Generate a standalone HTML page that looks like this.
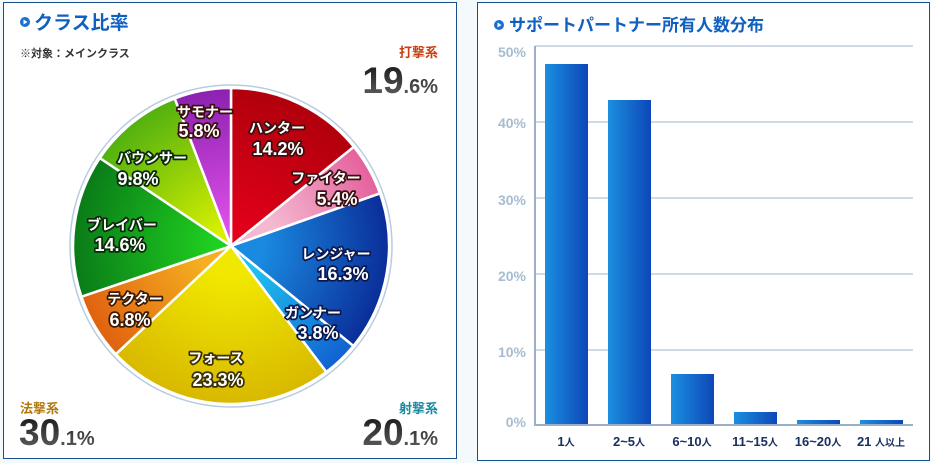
<!DOCTYPE html>
<html><head><meta charset="utf-8"><style>
body{margin:0;background:#f4f9fc;width:931px;height:463px;overflow:hidden;font-family:"Liberation Sans","Noto Sans CJK JP",sans-serif}
svg{position:absolute;left:0;top:0}
</style></head><body>
<svg width="931" height="463" viewBox="0 0 931 463">
<defs>
<linearGradient id="bar" x1="0" x2="1"><stop offset="0" stop-color="#1b8fe0"/><stop offset="1" stop-color="#0d47b8"/></linearGradient>
<linearGradient id="gr" x1="0" y1="0" x2="0" y2="1"><stop offset="0" stop-color="#111"/><stop offset="1" stop-color="#666"/></linearGradient>
<radialGradient id="hu" cx="231" cy="246" r="160" gradientUnits="userSpaceOnUse"><stop offset="0" stop-color="#e8001c"/><stop offset="1" stop-color="#b0000c"/></radialGradient>
<radialGradient id="fi" cx="231" cy="246" r="160" gradientUnits="userSpaceOnUse"><stop offset="0.3" stop-color="#f4b8d0"/><stop offset="1" stop-color="#e4609c"/></radialGradient>
<radialGradient id="ra" cx="231" cy="246" r="160" gradientUnits="userSpaceOnUse"><stop offset="0.2" stop-color="#1a8ae0"/><stop offset="1" stop-color="#0a2c98"/></radialGradient>
<radialGradient id="gu" cx="231" cy="246" r="160" gradientUnits="userSpaceOnUse"><stop offset="0.2" stop-color="#20c0f0"/><stop offset="1" stop-color="#1060d0"/></radialGradient>
<radialGradient id="fo" cx="231" cy="246" r="160" gradientUnits="userSpaceOnUse"><stop offset="0.2" stop-color="#f0e800"/><stop offset="1" stop-color="#d8b800"/></radialGradient>
<radialGradient id="te" cx="231" cy="246" r="160" gradientUnits="userSpaceOnUse"><stop offset="0.2" stop-color="#f4b020"/><stop offset="1" stop-color="#e06010"/></radialGradient>
<radialGradient id="br" cx="231" cy="246" r="160" gradientUnits="userSpaceOnUse"><stop offset="0.1" stop-color="#20d020"/><stop offset="1" stop-color="#0a7a18"/></radialGradient>
<radialGradient id="bo" cx="231" cy="246" r="160" gradientUnits="userSpaceOnUse"><stop offset="0.1" stop-color="#d8f000"/><stop offset="1" stop-color="#50b010"/></radialGradient>
<radialGradient id="su" cx="231" cy="246" r="160" gradientUnits="userSpaceOnUse"><stop offset="0.1" stop-color="#e050e8"/><stop offset="1" stop-color="#8a20b0"/></radialGradient>
</defs>
<rect x="3.5" y="2.5" width="453" height="456" fill="#fff" stroke="#1a4f8a"/>
<circle cx="25" cy="22" r="5" fill="#1a70d0"/><path d="M23.5 19.5 L27.5 22 L23.5 24.5Z" fill="#fff"/>
<text x="34" y="29" font-size="19" font-weight="bold" fill="#1060c0">クラス比率</text>
<text x="20" y="57" font-size="11" font-weight="bold" fill="#333">※対象：メインクラス</text>
<circle cx="231" cy="246" r="161" fill="#fff" stroke="#b8cce0" stroke-width="1.5"/>
<g stroke="#fff" stroke-width="2.5">
<path d="M231 246 L231 88 A158 158 0 0 1 353.9 146.8Z" fill="url(#hu)"/>
<path d="M231 246 L353.9 146.8 A158 158 0 0 1 380 193.4Z" fill="url(#fi)"/>
<path d="M231 246 L380 193.4 A158 158 0 0 1 353.4 346Z" fill="url(#ra)"/>
<path d="M231 246 L353.4 346 A158 158 0 0 1 326.3 372Z" fill="url(#gu)"/>
<path d="M231 246 L326.3 372 A158 158 0 0 1 115.8 354.2Z" fill="url(#fo)"/>
<path d="M231 246 L115.8 354.2 A158 158 0 0 1 81.4 296.7Z" fill="url(#te)"/>
<path d="M231 246 L81.4 296.7 A158 158 0 0 1 99.8 158Z" fill="url(#br)"/>
<path d="M231 246 L99.8 158 A158 158 0 0 1 174.7 98.4Z" fill="url(#bo)"/>
<path d="M231 246 L174.7 98.4 A158 158 0 0 1 231 88Z" fill="url(#su)"/>
</g>
<g font-weight="bold" fill="#fff" stroke="#3a1010" stroke-width="3.5" paint-order="stroke" stroke-linejoin="round" text-anchor="middle">
<text x="205" y="117" font-size="14">サモナー</text><text x="199" y="137" font-size="18">5.8%</text>
<text x="277" y="133" font-size="14">ハンター</text><text x="278" y="155" font-size="18">14.2%</text>
<text x="326" y="183" font-size="14">ファイター</text><text x="337" y="205" font-size="18">5.4%</text>
<text x="336" y="259" font-size="14" stroke="#0a1a50">レンジャー</text><text x="343" y="280" font-size="18" stroke="#0a1a50">16.3%</text>
<text x="313" y="318" font-size="14" stroke="#0a1a50">ガンナー</text><text x="318" y="339" font-size="18" stroke="#0a1a50">3.8%</text>
<text x="216" y="363" font-size="14" stroke="#3a3000">フォース</text><text x="218" y="386" font-size="18" stroke="#3a3000">23.3%</text>
<text x="135" y="304" font-size="14" stroke="#3a1a00">テクター</text><text x="130" y="326" font-size="18" stroke="#3a1a00">6.8%</text>
<text x="122" y="230" font-size="14" stroke="#0a2a0a">ブレイバー</text><text x="120" y="251" font-size="18" stroke="#0a2a0a">14.6%</text>
<text x="152" y="163" font-size="14" stroke="#0a2a0a">バウンサー</text><text x="138" y="185" font-size="18" stroke="#0a2a0a">9.8%</text>
</g>
<text x="438" y="57" font-size="13" font-weight="bold" fill="#c84010" text-anchor="end">打撃系</text>
<text x="438" y="93" font-weight="bold" fill="url(#gr)" text-anchor="end"><tspan font-size="37">19</tspan><tspan font-size="20">.6%</tspan></text>
<text x="20" y="413" font-size="13" font-weight="bold" fill="#b07a10">法撃系</text>
<text x="19" y="445" font-weight="bold" fill="url(#gr)"><tspan font-size="37">30</tspan><tspan font-size="20">.1%</tspan></text>
<text x="438" y="413" font-size="13" font-weight="bold" fill="#1a8aa0" text-anchor="end">射撃系</text>
<text x="438" y="445" font-weight="bold" fill="url(#gr)" text-anchor="end"><tspan font-size="37">20</tspan><tspan font-size="20">.1%</tspan></text>
<rect x="477.5" y="2.5" width="452" height="458" fill="#fff" stroke="#1a4f8a"/>
<circle cx="499" cy="25" r="5" fill="#1a70d0"/><path d="M497.5 22.5 L501.5 25 L497.5 27.5Z" fill="#fff"/>
<text x="509" y="31" font-size="17" font-weight="bold" fill="#1060c0">サポートパートナー所有人数分布</text>
<g stroke="#b0c4d8" stroke-width="1.2">
<line x1="535" y1="46" x2="913" y2="46"/><line x1="535" y1="122" x2="913" y2="122"/>
<line x1="535" y1="198" x2="913" y2="198"/><line x1="535" y1="274" x2="913" y2="274"/>
<line x1="535" y1="350" x2="913" y2="350"/>
</g>
<line x1="535" y1="46" x2="535" y2="425" stroke="#9ab0c8" stroke-width="2"/>
<line x1="534" y1="425" x2="913" y2="425" stroke="#9ab0c8" stroke-width="2"/>
<g font-size="14" font-weight="bold" fill="#a8bcd0" text-anchor="end">
<text x="526" y="57">50%</text><text x="526" y="128">40%</text><text x="526" y="205">30%</text>
<text x="526" y="281">20%</text><text x="526" y="357">10%</text><text x="526" y="427">0%</text>
</g>
<g fill="url(#bar)">
<rect x="545" y="64" width="43" height="360"/><rect x="608" y="100" width="43" height="324"/>
<rect x="671" y="374" width="43" height="50"/><rect x="734" y="412" width="43" height="12"/>
<rect x="797" y="420" width="43" height="4"/><rect x="860" y="420" width="43" height="4"/>
</g>
<g font-size="13" font-weight="bold" fill="#1a3060" text-anchor="middle">
<text x="566" y="446">1<tspan font-size="10">人</tspan></text>
<text x="629" y="446">2~5<tspan font-size="10">人</tspan></text>
<text x="692" y="446">6~10<tspan font-size="10">人</tspan></text>
<text x="755" y="446">11~15<tspan font-size="10">人</tspan></text>
<text x="818" y="446">16~20<tspan font-size="10">人</tspan></text>
<text x="881" y="446">21 <tspan font-size="10">人以上</tspan></text>
</g>
</svg>
</body></html>
